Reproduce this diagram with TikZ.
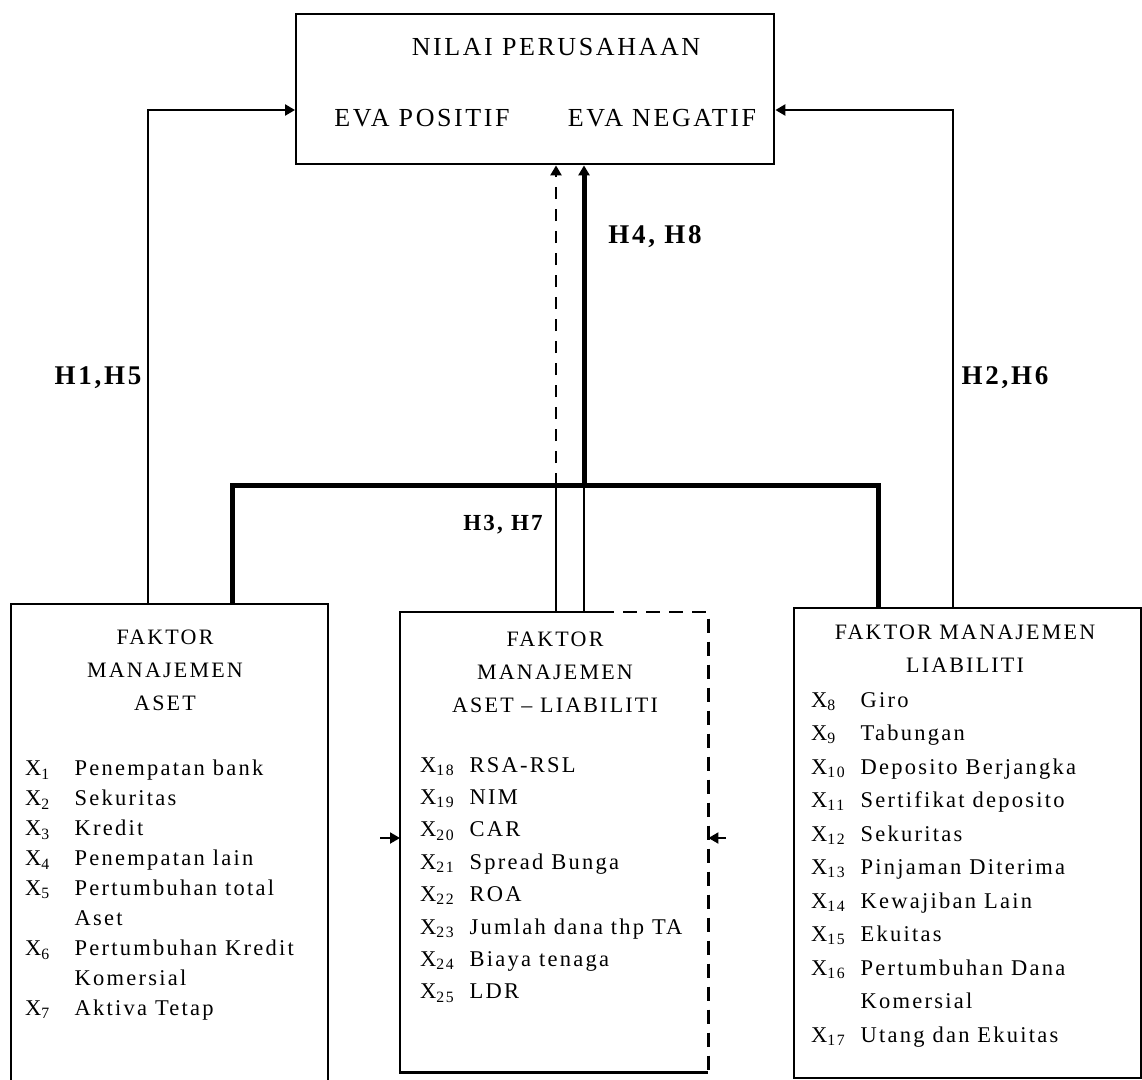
\documentclass[tikz,border=0pt]{standalone}
\usepackage{fontspec}
\setmainfont{Liberation Serif}[LetterSpace=10]
\usetikzlibrary{arrows.meta,calc}
\newcommand\itm[2]{\makebox[2.2em][l]{X\textsubscript{#1}}#2}
\newcommand\cont[1]{\hspace*{2.2em}#1}
\begin{document}
\begin{tikzpicture}[x=1pt,y=-1pt,
  frame/.style={draw, line width=2.4pt, anchor=north west, inner sep=0pt},
  title/.style={font=\fontsize{26}{30}\selectfont},
  hdr/.style={align=center, font=\fontsize{22}{33}\selectfont},
  lst/.style={align=left, anchor=north west, inner sep=0pt},
  hlab/.style={font=\bfseries\fontsize{27}{30}\selectfont},
  conn/.style={line width=2.6pt},
  tip/.style={-{Triangle[length=10pt,width=11pt]}},
  bus/.style={line width=5pt}
]
\useasboundingbox (0,0) rectangle (1142,1079);

% value box at the top
\node[frame, minimum width=478pt, minimum height=150pt] (nilai) at (295,13) {};
\node[title] (nt) at (556,47) {NILAI PERUSAHAAN};
\node[title] (ep) at (422,118) {EVA POSITIF};
\node[title] (en) at (662,118) {EVA NEGATIF};

% three factor boxes
\node[frame, minimum width=317pt, minimum height=485pt] (aset) at (10,603) {};
\node[draw=none, anchor=north west, inner sep=0pt, minimum width=308pt, minimum height=460pt] (mid) at (400,612) {};
\node[frame, minimum width=347pt, minimum height=470pt] (liab) at (793,607) {};

% middle box outline: solid on the left, dashed on the right
\draw[line width=2.4pt] ($(mid.north west)+(200,0)$) -- (mid.north west) -- (mid.south west) -- (mid.south east);
\draw[line width=2.4pt, dash pattern=on 14pt off 9pt] ($(mid.north west)+(200,0)$) -- (mid.north east) -- (mid.south east);

% box headings
\node[hdr] (ah) at (165,670) {FAKTOR\\MANAJEMEN\\ASET};
\node[hdr] (mh) at (555,672) {FAKTOR\\MANAJEMEN\\ASET -- LIABILITI};
\node[hdr] (lh) at (965,649) {FAKTOR MANAJEMEN\\LIABILITI};

% variable lists
\node[lst, font=\fontsize{22.5}{30}\selectfont] (al) at (25,760) {%
\itm{1}{Penempatan bank}\\
\itm{2}{Sekuritas}\\
\itm{3}{Kredit}\\
\itm{4}{Penempatan lain}\\
\itm{5}{Pertumbuhan total}\\
\cont{Aset}\\
\itm{6}{Pertumbuhan Kredit}\\
\cont{Komersial}\\
\itm{7}{Aktiva Tetap}};

\node[lst, font=\fontsize{22.5}{32.4}\selectfont] (ml) at (420,757) {%
\itm{18}{RSA-RSL}\\
\itm{19}{NIM}\\
\itm{20}{CAR}\\
\itm{21}{Spread Bunga}\\
\itm{22}{ROA}\\
\itm{23}{Jumlah dana thp TA}\\
\itm{24}{Biaya tenaga}\\
\itm{25}{LDR}};

\node[lst, font=\fontsize{22.5}{33.5}\selectfont] (ll) at (811,692) {%
\itm{8}{Giro}\\
\itm{9}{Tabungan}\\
\itm{10}{Deposito Berjangka}\\
\itm{11}{Sertifikat deposito}\\
\itm{12}{Sekuritas}\\
\itm{13}{Pinjaman Diterima}\\
\itm{14}{Kewajiban Lain}\\
\itm{15}{Ekuitas}\\
\itm{16}{Pertumbuhan Dana}\\
\cont{Komersial}\\
\itm{17}{Utang dan Ekuitas}};

% hypothesis labels
\node[hlab] (h15) at (98,378) {H1,H5};
\node[hlab] (h26) at (1005,378) {H2,H6};
\node[hlab] (h48) at (655,237) {H4, H8};
\node[hlab, font=\bfseries\fontsize{23}{26}\selectfont] (h37) at (503,525) {H3, H7};

% routing points
\coordinate (pl) at (148,110);
\coordinate (pr) at (953,110);
\coordinate (busL) at (232,485);
\coordinate (busR) at (878,485);
\coordinate (busM) at (584,485);
\coordinate (dsh) at (556,485);
\coordinate (sl) at (380,838);
\coordinate (sr) at (726,838);

% outer hypothesis paths
\draw[conn, tip] (pl |- aset.north) -- (pl) -- (pl -| nilai.west);
\draw[conn, tip] (pr |- liab.north) -- (pr) -- (pr -| nilai.east);

% combined path through the thick bus
\draw[bus] (busL |- aset.north) -- (busL) -- (busR) -- (busR |- liab.north);
\draw[bus, tip] (busM) -- (busM |- nilai.south);
\draw[conn] (busM |- mid.north) -- (busM);

% moderated path (dashed above the bus)
\draw[line width=2pt] (dsh |- mid.north) -- (dsh);
\draw[line width=2.4pt, dash pattern=on 12pt off 10pt, tip] (dsh) -- (dsh |- nilai.south);

% side inputs of the middle box
\draw[tip, line width=2pt] (sl) -- (sl -| mid.west);
\draw[tip, line width=2pt] (sr) -- (sr -| mid.east);
\end{tikzpicture}
\end{document}
